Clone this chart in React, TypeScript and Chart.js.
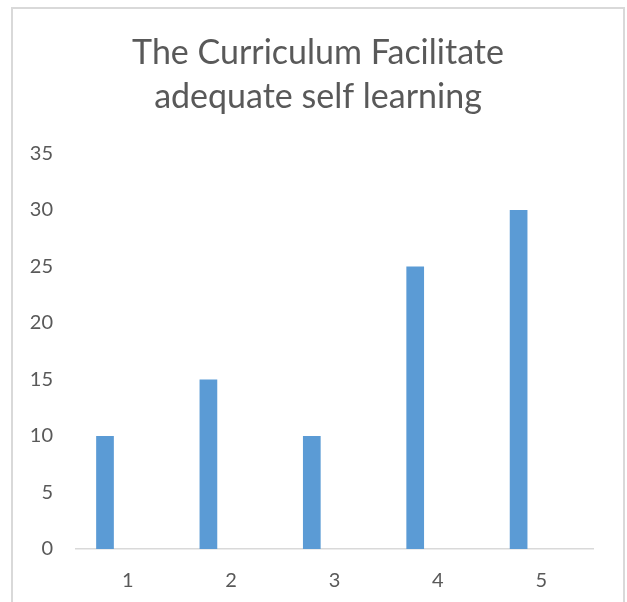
import React, { useEffect, useRef } from "react";
import { Chart, registerables } from "chart.js";

Chart.register(...registerables);

const categories = ["1", "2", "3", "4", "5"];
const values = [10, 15, 10, 25, 30];
const emptySeries = [null, null, null, null, null];
const titleLines = ["The Curriculum Facilitate", "adequate self learning"];
const yMin = 0;
const yMax = 35;
const yStep = 5;

const FONT = "Lato, 'Open Sans', sans-serif";
const TEXT = "#595959";

export default function App() {
  const ref = useRef<HTMLCanvasElement | null>(null);

  useEffect(() => {
    if (!ref.current) return;
    const chart = new Chart(ref.current, {
      type: "bar",
      data: {
        labels: categories,
        datasets: [
          {
            label: "Series1",
            data: values,
            backgroundColor: "#5B9BD5",
            borderWidth: 0,
            categoryPercentage: 0.878,
            barPercentage: 0.39,
            yAxisID: "y",
          },
          {
            label: "Series2",
            data: emptySeries as any,
            backgroundColor: "#ED7D31",
            borderWidth: 0,
            categoryPercentage: 0.878,
            barPercentage: 0.39,
            yAxisID: "y",
          },
        ],
      },
      options: {
        animation: false,
        responsive: false,
        maintainAspectRatio: false,
        layout: { padding: { left: 0, right: 0, top: 0, bottom: 0 } },
        plugins: {
          legend: { display: false },
          tooltip: { enabled: false },
          title: {
            display: true,
            text: titleLines,
            color: TEXT,
            font: { family: FONT, size: 34, weight: "normal", lineHeight: 1.3 },
            padding: { top: 22, bottom: 34 },
          },
        },
        scales: {
          x: {
            grid: { display: false, drawTicks: false },
            border: { display: true, color: "#D9D9D9", width: 1.5 },
            ticks: {
              color: TEXT,
              font: { family: FONT, size: 20 },
              padding: 20,
              maxRotation: 0,
            },
            afterFit: (s: any) => {
              s.height = 53;
            },
          },
          y: {
            position: "left",
            min: yMin,
            max: yMax,
            grid: { display: false, drawTicks: false },
            border: { display: false },
            ticks: {
              stepSize: yStep,
              color: TEXT,
              font: { family: FONT, size: 20 },
              padding: 23,
            },
            afterFit: (s: any) => {
              s.width = 63;
            },
          },
          yRight: {
            position: "right",
            min: yMin,
            max: yMax,
            display: true,
            grid: { display: false, drawTicks: false },
            border: { display: false },
            ticks: { display: false },
            afterFit: (s: any) => {
              s.width = 30;
            },
          },
        },
      },
    });
    return () => chart.destroy();
  }, []);

  return (
    <div
      style={{
        position: "absolute",
        left: 11,
        top: 7,
        width: 614,
        height: 595,
        boxSizing: "border-box",
        borderTop: "2px solid #D9D9D9",
        borderLeft: "2px solid #D9D9D9",
        borderRight: "2px solid #D9D9D9",
        overflow: "hidden",
        background: "#fff",
      }}
    >
      <canvas ref={ref} width={610} height={593} style={{ display: "block", width: 610, height: 593 }} />
    </div>
  );
}
